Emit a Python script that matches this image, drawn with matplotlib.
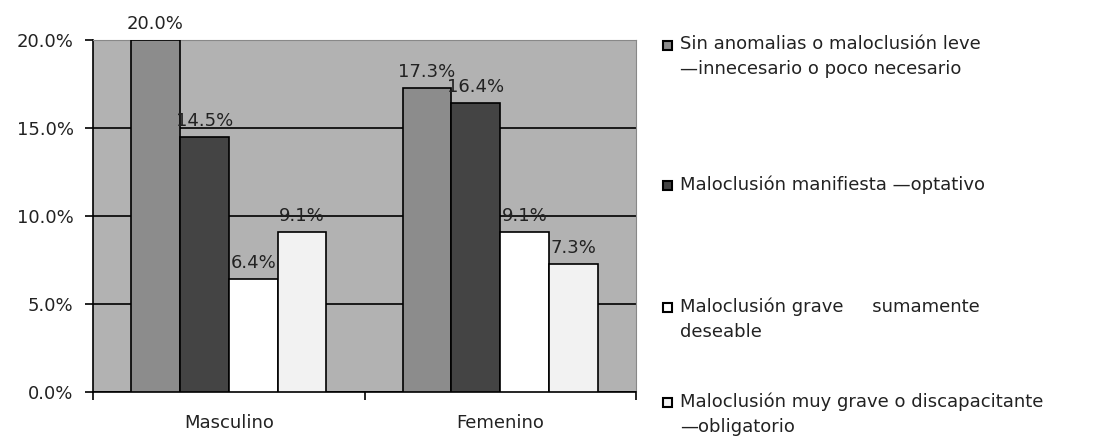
import numpy as np
import matplotlib
matplotlib.use("Agg")
from matplotlib import pyplot as plt
from matplotlib.patches import Rectangle

# data
categories = ["Masculino", "Femenino"]
series_names = ["Sin anomalias o maloclusión leve\n—innecesario o poco necesario",
                "Maloclusión manifiesta —optativo",
                "Maloclusión grave     sumamente\ndeseable",
                "Maloclusión muy grave o discapacitante\n—obligatorio"]
sin_anomalias = [20.0, 17.3]
manifiesta = [14.5, 16.4]
grave = [6.4, 9.1]
muy_grave = [9.1, 7.3]
yticks = [0, 5, 10, 15, 20]

series = [sin_anomalias, manifiesta, grave, muy_grave]
colors = ["#8c8c8c", "#444444", "#ffffff", "#f2f2f2"]
fs = 13

plt.rcParams['font.family'] = ['DejaVu Sans']
fig = plt.figure(figsize=(11.01, 4.44), dpi=100)
ax = fig.add_axes([93 / 1101, 52 / 444, 543 / 1101, 352 / 444])
ax.set_facecolor("#b2b2b2")

x = np.arange(len(categories))
width = 0.18
for i, vals in enumerate(series):
    pos = x + (i - 1.5) * width
    ax.bar(pos, vals, width, color=colors[i], edgecolor="black",
           linewidth=1.2, zorder=3)
    for px, v in zip(pos, vals):
        ax.annotate("%.1f%%" % v, (px, v), xytext=(0, 5),
                    textcoords="offset points", ha="center", va="bottom",
                    fontsize=fs, color="#222222", zorder=4)

ax.set_xlim(-0.5, 1.5)
ax.set_ylim(0, 20)
ax.set_yticks(yticks)
ax.set_yticklabels(["%.1f%%" % t for t in yticks], fontsize=fs, color="#222222")
ax.yaxis.grid(True, color="black", linewidth=1.2, zorder=1)
ax.set_xticks([-0.5, 0.5, 1.5])
ax.set_xticklabels([])
ax.set_xticks(x, minor=True)
ax.set_xticklabels(categories, minor=True, fontsize=fs, color="#222222")
ax.tick_params(axis="x", which="minor", length=0, pad=16)
ax.tick_params(axis="x", which="major", length=6, width=1.2, direction="out")
ax.tick_params(axis="y", length=6, width=1.2, direction="out", pad=8)
ax.spines["left"].set_linewidth(1.2)
ax.spines["bottom"].set_linewidth(1.2)
ax.spines["top"].set_color("#888888")
ax.spines["right"].set_color("#888888")

# legend drawn by hand to keep the uneven spacing
legend_y = [45, 185, 307, 402]
for name, c, y in zip(series_names, colors, legend_y):
    fig.patches.append(Rectangle((663 / 1101, 1 - (y + 5) / 444), 9 / 1101, 9 / 444,
                                 transform=fig.transFigure, facecolor=c,
                                 edgecolor="black", linewidth=1.5))
    fig.text(680 / 1101, 1 - (y - 10) / 444, name, fontsize=fs, color="#222222",
             va="top", ha="left", linespacing=1.5)

plt.savefig("out.png", dpi=100)
